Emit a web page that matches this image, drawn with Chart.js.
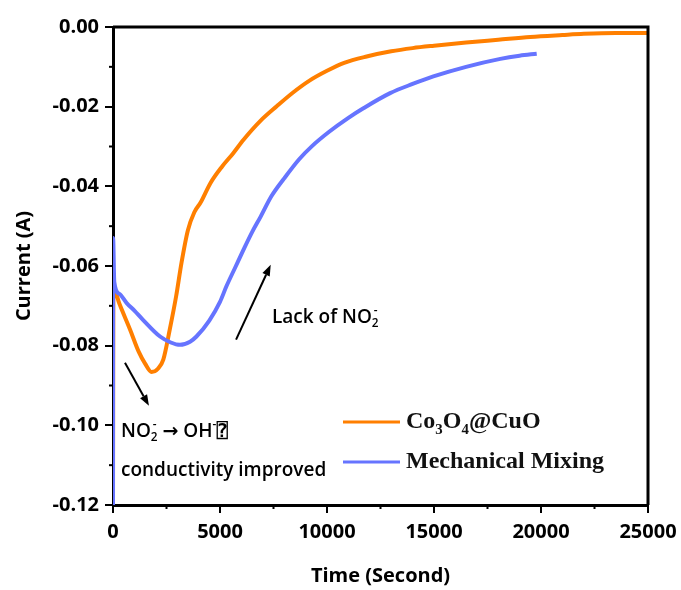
<!DOCTYPE html>
<html>
<head>
<meta charset="utf-8">
<script src="https://cdn.jsdelivr.net/npm/chart.js@4/dist/chart.umd.min.js"></script>
<style>
  html, body { margin: 0; padding: 0; background: #fff; }
  #wrap { width: 681px; height: 590px; }
</style>
</head>
<body>
<div id="wrap"><canvas id="chart"></canvas></div>
<script>
// Co3O4@CuO curve (time in s, current in A)
const timeCo = [0, 20, 300, 800, 1200, 1500, 1800, 2100, 2350, 2650, 2950, 3200, 3500, 3800, 4100, 4550, 5100, 5600, 6100, 6900, 7650, 8400, 9200, 10000, 10800, 11850, 13000, 14000, 15000, 16500, 18000, 19500, 21000, 22000, 23500, 25000];
const currentCo = [-0.1195, -0.0655, -0.0695, -0.0760, -0.0815, -0.0845, -0.0866, -0.0858, -0.0835, -0.0760, -0.0676, -0.0592, -0.0510, -0.0465, -0.0440, -0.0392, -0.0350, -0.0318, -0.0283, -0.0235, -0.0199, -0.0165, -0.0134, -0.0110, -0.0090, -0.0074, -0.0061, -0.0053, -0.0047, -0.0039, -0.0032, -0.0025, -0.0020, -0.0017, -0.0015, -0.0015];

// Mechanical Mixing curve
const timeMM = [0, 5, 60, 300, 640, 1000, 1400, 2200, 2700, 3130, 3600, 3900, 4500, 5000, 5300, 5700, 6100, 6500, 6900, 7400, 8000, 8700, 9300, 10100, 11000, 11700, 12950, 14000, 14970, 16500, 18100, 19000, 19800];
const currentMM = [-0.1200, -0.0530, -0.0640, -0.0670, -0.0693, -0.0712, -0.0735, -0.0777, -0.0792, -0.0798, -0.0790, -0.0777, -0.0737, -0.0690, -0.0651, -0.0605, -0.0559, -0.0515, -0.0476, -0.0425, -0.0380, -0.0332, -0.0299, -0.0263, -0.0228, -0.0204, -0.0166, -0.0143, -0.0124, -0.0100, -0.0080, -0.0072, -0.0067];

const seriesNames = ['Co3O4@CuO', 'Mechanical Mixing'];
const seriesColors = ['#ff7f00', '#6674ff'];

const xTicks = [0, 5000, 10000, 15000, 20000, 25000];
const yTicks = [-0.12, -0.10, -0.08, -0.06, -0.04, -0.02, 0.00];

const toPoints = (xs, ys) => xs.map((x, i) => ({ x: x, y: ys[i] }));

const sans = "'Open Sans', 'DejaVu Sans Mono', 'DejaVu Sans', sans-serif";
const arrowFont = "'DejaVu Sans', sans-serif";

// notes: [time, current] anchor + rich text parts (0 normal, -1 sub, 1 sup, 'ss' sub+sup, 'f' other font)
const notes = [
  { at: [374, -0.1016], parts: [['NO', 0], ['2', '-', 'ss'], [' ', 0], ['\u2192', arrowFont, 'f'], [' OH', 0], ['-', 1], ['\u2370', 0]] },
  { at: [374, -0.1114], parts: [['conductivity improved', 0]] },
  { at: [7430, -0.0730], parts: [['Lack of NO', 0], ['2', '-', 'ss']] }
];
const arrows = [
  [[560, -0.0843], [1680, -0.0951]],
  [[5750, -0.0785], [7370, -0.0597]]
];

function drawRich(ctx, parts, x, y, size, family, weight) {
  ctx.textAlign = 'left';
  ctx.textBaseline = 'middle';
  for (const p of parts) {
    if (p[2] === 'ss') {
      ctx.font = weight + ' ' + (size * 0.62) + 'px ' + family;
      ctx.fillText(p[0], x, y + size * 0.32);
      ctx.fillText(p[1], x + 2, y - size * 0.36);
      x += Math.max(ctx.measureText(p[0]).width, ctx.measureText(p[1]).width + 2);
    } else if (p[2] === 'f') {
      ctx.font = 'bold ' + size + 'px ' + p[1];
      ctx.fillText(p[0], x, y);
      x += ctx.measureText(p[0]).width;
    } else {
      const s = p[1];
      const fs = s ? size * 0.62 : size;
      ctx.font = weight + ' ' + fs + 'px ' + family;
      const dy = s === 1 ? -size * 0.36 : s === -1 ? size * 0.32 : 0;
      ctx.fillText(p[0], x, y + dy);
      x += ctx.measureText(p[0]).width;
    }
  }
  return x;
}

function arrowLine(ctx, x1, y1, x2, y2) {
  const a = Math.atan2(y2 - y1, x2 - x1);
  const hl = 11, hw = 4;
  ctx.beginPath();
  ctx.moveTo(x1, y1);
  ctx.lineTo(x2 - hl * Math.cos(a), y2 - hl * Math.sin(a));
  ctx.stroke();
  ctx.beginPath();
  ctx.moveTo(x2, y2);
  ctx.lineTo(x2 - hl * Math.cos(a) + hw * Math.sin(a), y2 - hl * Math.sin(a) - hw * Math.cos(a));
  ctx.lineTo(x2 - hl * Math.cos(a) - hw * Math.sin(a), y2 - hl * Math.sin(a) + hw * Math.cos(a));
  ctx.closePath();
  ctx.fill();
}

const extras = {
  id: 'extras',
  afterDraw(chart) {
    const ctx = chart.ctx;
    const xs = chart.scales.x, ys = chart.scales.y;
    const a = chart.chartArea;
    ctx.save();
    ctx.strokeStyle = '#000';
    ctx.fillStyle = '#000';

    // top and right frame
    ctx.lineWidth = 3;
    ctx.beginPath();
    ctx.moveTo(a.left, a.top);
    ctx.lineTo(a.right, a.top);
    ctx.lineTo(a.right, a.bottom);
    ctx.stroke();

    // minor ticks
    ctx.lineWidth = 2;
    for (let i = 0; i < yTicks.length - 1; i++) {
      const py = ys.getPixelForValue((yTicks[i] + yTicks[i + 1]) / 2);
      ctx.beginPath(); ctx.moveTo(a.left - 4, py); ctx.lineTo(a.left, py); ctx.stroke();
    }
    for (let i = 0; i < xTicks.length - 1; i++) {
      const px = xs.getPixelForValue((xTicks[i] + xTicks[i + 1]) / 2);
      ctx.beginPath(); ctx.moveTo(px, a.bottom); ctx.lineTo(px, a.bottom + 4); ctx.stroke();
    }

    // arrows
    ctx.lineWidth = 2;
    arrows.forEach(([p, q]) => {
      arrowLine(ctx, xs.getPixelForValue(p[0]), ys.getPixelForValue(p[1]),
                xs.getPixelForValue(q[0]), ys.getPixelForValue(q[1]));
    });

    // annotation text
    notes.forEach(n => {
      drawRich(ctx, n.parts, xs.getPixelForValue(n.at[0]), ys.getPixelForValue(n.at[1]), 19, sans, '600');
    });

    // legend
    const serif = "'Liberation Serif', 'Times New Roman', serif";
    seriesNames.forEach((name, i) => {
      const ly = 422 + i * 40;
      ctx.strokeStyle = seriesColors[i];
      ctx.lineWidth = 3;
      ctx.beginPath(); ctx.moveTo(343, ly); ctx.lineTo(400, ly); ctx.stroke();
      ctx.fillStyle = '#111';
      const parts = name.split(/(\d)/).filter(s => s).map(s => /\d/.test(s) ? [s, -1] : [s, 0]);
      drawRich(ctx, parts, 406, ly, 24, serif, 'bold');
    });
    ctx.restore();
  }
};

function noPad(s) {
  s.paddingTop = 0; s.paddingBottom = 0; s.paddingLeft = 0; s.paddingRight = 0;
}

Chart.defaults.font.family = "'Open Sans', sans-serif";
Chart.defaults.color = '#000';

new Chart(document.getElementById('chart'), {
  type: 'line',
  data: {
    datasets: [
      {
        label: seriesNames[0],
        data: toPoints(timeCo, currentCo),
        borderColor: seriesColors[0],
        borderWidth: 4,
        pointRadius: 0,
        order: 1,
        cubicInterpolationMode: 'monotone'
      },
      {
        label: seriesNames[1],
        data: toPoints(timeMM, currentMM),
        borderColor: seriesColors[1],
        borderWidth: 4,
        pointRadius: 0,
        order: 0,
        cubicInterpolationMode: 'monotone'
      }
    ]
  },
  options: {
    responsive: true,
    maintainAspectRatio: false,
    animation: false,
    layout: { padding: { left: 0, right: 33, top: 27, bottom: 0 } },
    plugins: { legend: { display: false }, tooltip: { enabled: false } },
    scales: {
      x: {
        type: 'linear',
        min: 0, max: 25000,
        afterBuildTicks: s => { s.ticks = xTicks.map(v => ({ value: v })); },
        ticks: { font: { size: 20, weight: 'bold' }, padding: 7, maxRotation: 0, callback: v => String(v) },
        grid: { drawOnChartArea: false, tickLength: 8, color: '#000', lineWidth: 2 },
        border: { color: '#000', width: 3 },
        title: { display: true, text: 'Time (Second)', font: { size: 20, weight: 'bold' }, padding: { top: 0, bottom: 2 } },
        afterFit: s => { s.height = 85; noPad(s); }
      },
      y: {
        min: -0.12, max: 0,
        afterBuildTicks: s => { s.ticks = yTicks.map(v => ({ value: v })); },
        ticks: { font: { size: 20, weight: 'bold' }, padding: 6, callback: v => Number(v).toFixed(2) },
        grid: { drawOnChartArea: false, tickLength: 8, color: '#000', lineWidth: 2 },
        border: { color: '#000', width: 3 },
        title: { display: true, text: 'Current (A)', font: { size: 20, weight: 'bold' }, padding: { top: 12, bottom: 0 } },
        afterFit: s => { s.width = 113; noPad(s); }
      }
    }
  },
  plugins: [extras]
});
</script>
</body>
</html>
